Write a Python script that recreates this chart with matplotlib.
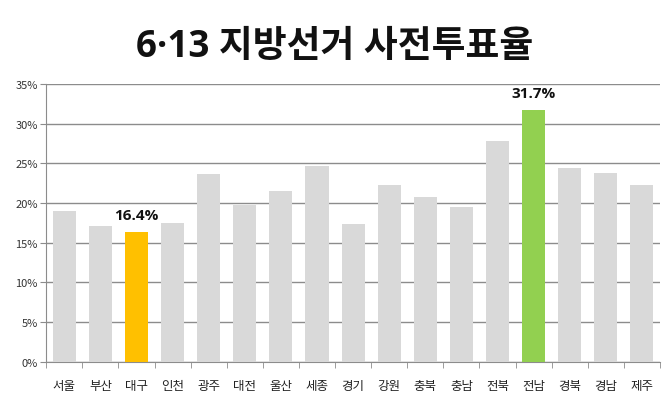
import matplotlib
matplotlib.use("Agg")
import matplotlib.pyplot as plt
import numpy as np

plt.rcParams['font.family'] = ['Noto Sans CJK KR', 'DejaVu Sans']

regions = ["서울", "부산", "대구", "인천", "광주", "대전", "울산", "세종", "경기",
           "강원", "충북", "충남", "전북", "전남", "경북", "경남", "제주"]
rates = [19.0, 17.1, 16.4, 17.5, 23.6, 19.7, 21.5, 24.7, 17.4,
         22.3, 20.8, 19.5, 27.8, 31.7, 24.4, 23.8, 22.3]
highlight = {"대구": "#FFC000", "전남": "#92D050"}
y_ticks = [0, 5, 10, 15, 20, 25, 30, 35]

fig = plt.figure(figsize=(6.7, 4.1), dpi=100)
ax = fig.add_axes([0.069, 0.115, 0.916, 0.678])

x = np.arange(len(regions))
colors = [highlight.get(r, "#D9D9D9") for r in regions]
ax.bar(x, rates, width=0.64, color=colors, zorder=3)

# value labels on highlighted bars
for i, r in enumerate(regions):
    if r in highlight:
        ax.annotate(f"{rates[i]:.1f}%", (x[i], rates[i]), xytext=(0, 7),
                    textcoords="offset points", ha="center", va="bottom",
                    fontsize=11, fontweight="bold", color="#111111",
                    family=["Open Sans", "DejaVu Sans"])

ax.set_xlim(-0.5, len(regions) - 0.5)
ax.set_ylim(0, 35)
ax.set_yticks(y_ticks)
ax.set_yticklabels([f"{v}%" for v in y_ticks], fontsize=8, color="#333333")
ax.yaxis.grid(True, color="#8C8C8C", linewidth=1, zorder=0)

ax.set_xticks(x)
ax.set_xticklabels(regions, fontsize=9, color="#222222")
ax.set_xticks(np.arange(-0.5, len(regions)), minor=True)
ax.tick_params(axis="x", which="major", length=0, pad=12)
ax.tick_params(axis="x", which="minor", length=4, color="#8C8C8C")
ax.tick_params(axis="y", length=4, color="#8C8C8C", pad=2)

for s in ["top", "right"]:
    ax.spines[s].set_visible(False)
for s in ["left", "bottom"]:
    ax.spines[s].set_color("#8C8C8C")

fig.text(0.5, 0.885, "6·13 지방선거 사전투표율", ha="center", va="center",
         fontsize=26.5, fontweight="bold", color="#111111",
         family=["Open Sans", "Noto Sans CJK KR", "DejaVu Sans"])

fig.savefig("out.png", dpi=100, facecolor="white")
